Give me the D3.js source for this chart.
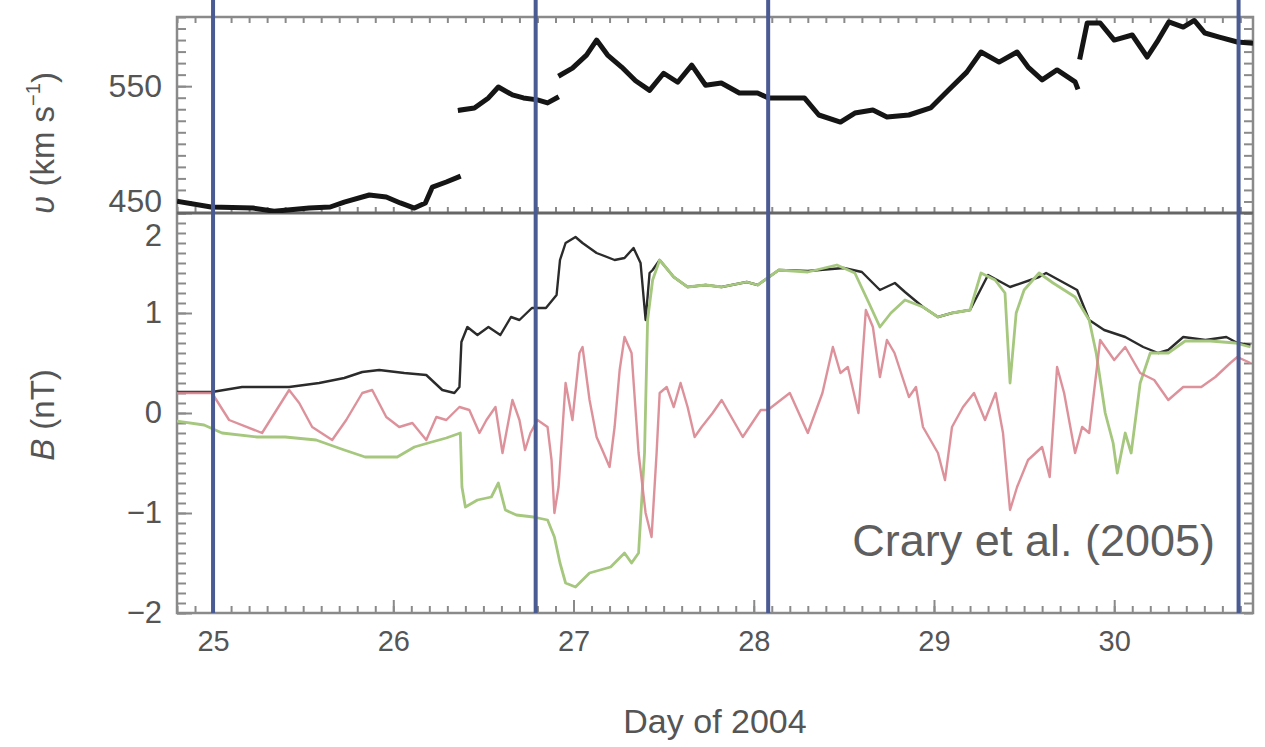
<!DOCTYPE html>
<html><head><meta charset="utf-8">
<script src="https://cdn.jsdelivr.net/npm/d3@7"></script>
<style>
html,body{margin:0;padding:0;background:#fff;}
svg{display:block;font-family:"Liberation Sans",Arial,Helvetica,sans-serif;}
</style></head><body>
<svg id="chart" width="1265" height="747"></svg>
<script>
// ---- data: solar wind speed (km/s), four segments with gaps ----
const speedSeg1 = [[24.814,449.8],[24.989,445.2],[25.222,444.3],[25.339,441.5],[25.533,444.3],[25.650,445.2],[25.728,449.5],[25.867,455.6],[25.961,453.9],[26.039,448.7],[26.117,444.3],[26.178,448.7],[26.217,462.5],[26.294,466.9],[26.361,471.2]];
const speedSeg2 = [[26.372,529.3],[26.450,531.1],[26.528,539.8],[26.583,549.3],[26.661,542.4],[26.722,539.8],[26.800,538.1],[26.856,535.5],[26.906,539.8]];
const speedSeg3 = [[26.928,559.7],[26.994,565.7],[27.072,577.0],[27.128,590.0],[27.189,577.0],[27.267,566.6],[27.344,554.7],[27.422,546.4],[27.500,561.2],[27.578,553.4],[27.656,568.2],[27.733,550.8],[27.820,552.7],[27.920,544.1],[28.021,544.1],[28.081,539.8],[28.281,539.8],[28.361,525.0],[28.481,518.9],[28.561,526.7],[28.661,529.3],[28.739,523.3],[28.861,525.0],[28.981,531.1],[29.081,546.7],[29.182,562.2],[29.261,579.6],[29.361,570.9],[29.461,579.6],[29.522,566.6],[29.600,555.4],[29.683,564.1],[29.783,553.7],[29.794,549.3]];
const speedSeg4 = [[29.811,575.3],[29.850,604.8],[29.922,604.8],[30.000,590.0],[30.100,594.4],[30.183,575.3],[30.244,590.0],[30.303,605.7],[30.383,601.3],[30.444,607.0],[30.503,596.1],[30.583,592.6],[30.683,588.3],[30.756,587.4]];

// ---- data: magnetic field (nT) ----
const fieldBlack = [[24.794,0.21],[24.994,0.21],[25.161,0.26],[25.422,0.26],[25.589,0.30],[25.728,0.35],[25.828,0.41],[25.922,0.43],[26.061,0.40],[26.183,0.38],[26.272,0.23],[26.339,0.20],[26.367,0.26],[26.378,0.71],[26.411,0.86],[26.467,0.78],[26.528,0.86],[26.594,0.78],[26.653,0.96],[26.700,0.93],[26.769,1.05],[26.847,1.05],[26.906,1.18],[26.925,1.53],[26.956,1.70],[27.011,1.76],[27.050,1.70],[27.128,1.60],[27.228,1.53],[27.283,1.55],[27.333,1.65],[27.372,1.50],[27.400,0.93],[27.422,1.40],[27.439,1.43],[27.478,1.53],[27.556,1.36],[27.633,1.26],[27.733,1.28],[27.822,1.26],[27.961,1.31],[28.022,1.28],[28.139,1.43],[28.300,1.42],[28.500,1.45],[28.600,1.41],[28.661,1.30],[28.700,1.23],[28.783,1.30],[28.839,1.21],[28.939,1.06],[29.022,0.96],[29.100,1.00],[29.200,1.03],[29.300,1.38],[29.422,1.26],[29.583,1.36],[29.622,1.40],[29.794,1.23],[29.861,0.93],[29.944,0.83],[30.061,0.76],[30.161,0.66],[30.244,0.60],[30.300,0.63],[30.383,0.76],[30.506,0.73],[30.622,0.76],[30.683,0.70],[30.756,0.68]];
const fieldGreen = [[24.794,-0.08],[24.950,-0.12],[25.050,-0.20],[25.244,-0.24],[25.400,-0.24],[25.572,-0.27],[25.728,-0.37],[25.844,-0.44],[26.022,-0.44],[26.117,-0.34],[26.194,-0.30],[26.294,-0.25],[26.372,-0.20],[26.381,-0.74],[26.400,-0.94],[26.467,-0.87],[26.544,-0.84],[26.583,-0.70],[26.622,-0.97],[26.683,-1.02],[26.778,-1.04],[26.856,-1.07],[26.894,-1.24],[26.925,-1.50],[26.956,-1.70],[27.011,-1.74],[27.089,-1.60],[27.206,-1.54],[27.283,-1.40],[27.322,-1.50],[27.361,-1.40],[27.394,-0.40],[27.411,0.93],[27.439,1.33],[27.478,1.53],[27.556,1.36],[27.633,1.26],[27.733,1.28],[27.822,1.26],[27.961,1.31],[28.022,1.28],[28.139,1.43],[28.300,1.41],[28.461,1.48],[28.561,1.40],[28.639,1.10],[28.700,0.86],[28.761,1.00],[28.839,1.13],[28.939,1.06],[29.022,0.96],[29.100,1.00],[29.200,1.03],[29.261,1.40],[29.339,1.33],[29.394,1.20],[29.422,0.30],[29.456,1.00],[29.500,1.23],[29.583,1.40],[29.661,1.30],[29.783,1.16],[29.861,0.93],[29.900,0.60],[29.950,0.00],[29.994,-0.30],[30.017,-0.60],[30.061,-0.20],[30.094,-0.40],[30.144,0.30],[30.200,0.60],[30.300,0.60],[30.394,0.72],[30.533,0.72],[30.672,0.70],[30.756,0.66]];
const fieldRed = [[24.794,0.20],[24.994,0.20],[25.089,-0.07],[25.272,-0.20],[25.422,0.23],[25.478,0.10],[25.550,-0.14],[25.661,-0.27],[25.739,-0.07],[25.828,0.20],[25.883,0.23],[25.961,-0.04],[26.033,-0.14],[26.106,-0.10],[26.183,-0.27],[26.239,-0.04],[26.294,-0.07],[26.367,0.06],[26.422,0.03],[26.478,-0.20],[26.517,-0.07],[26.567,0.06],[26.606,-0.40],[26.661,0.13],[26.700,-0.07],[26.731,-0.37],[26.761,-0.20],[26.800,-0.07],[26.856,-0.14],[26.878,-0.47],[26.894,-1.00],[26.917,-0.74],[26.956,0.30],[26.994,-0.07],[27.033,0.60],[27.050,0.66],[27.089,0.13],[27.128,-0.24],[27.167,-0.40],[27.200,-0.54],[27.228,-0.14],[27.256,0.43],[27.283,0.76],[27.322,0.60],[27.361,-0.40],[27.400,-1.00],[27.433,-1.24],[27.461,-0.40],[27.478,0.20],[27.517,0.26],[27.556,0.06],[27.594,0.30],[27.633,0.06],[27.672,-0.24],[27.711,-0.14],[27.772,0.00],[27.822,0.13],[27.939,-0.24],[28.039,0.03],[28.078,0.03],[28.200,0.20],[28.300,-0.20],[28.381,0.20],[28.439,0.66],[28.481,0.40],[28.522,0.46],[28.581,0.00],[28.622,1.03],[28.661,0.86],[28.700,0.36],[28.739,0.73],[28.781,0.60],[28.861,0.16],[28.900,0.26],[28.939,-0.14],[29.022,-0.40],[29.061,-0.67],[29.100,-0.14],[29.161,0.06],[29.222,0.20],[29.283,-0.07],[29.342,0.20],[29.383,-0.20],[29.422,-0.97],[29.461,-0.74],[29.522,-0.47],[29.600,-0.34],[29.642,-0.64],[29.683,0.46],[29.722,0.20],[29.783,-0.40],[29.822,-0.14],[29.861,-0.20],[29.922,0.73],[30.000,0.53],[30.061,0.66],[30.144,0.40],[30.222,0.33],[30.300,0.13],[30.383,0.26],[30.483,0.26],[30.561,0.36],[30.644,0.50],[30.683,0.56],[30.756,0.50]];

// ---- ticks, markers, labels ----
const dayTicks = [25, 26, 27, 28, 29, 30];
const speedTicks = [450, 550];
const fieldTicks = [-2, -1, 0, 1, 2];
const eventDays = [25.0, 26.79, 28.08, 30.69];
const xTitle = "Day of 2004";
const creditText = "Crary et al. (2005)";

// ---- layout ----
const L = 177, R = 1253, T = 17, M = 213, B = 613;
const svg = d3.select("#chart");
const x = d3.scaleLinear().domain([24.8, 30.77]).range([L, R]);
const yV = d3.scaleLinear().domain([440, 610]).range([M, T]);
const yB = d3.scaleLinear().domain([-2, 2]).range([B, M]);

const defs = svg.append("defs");
defs.append("clipPath").attr("id", "clipTop").append("rect").attr("x", L).attr("y", T).attr("width", R - L).attr("height", M - T);
defs.append("clipPath").attr("id", "clipBot").append("rect").attr("x", L).attr("y", M).attr("width", R - L).attr("height", B - M);

const axisColor = "#8a8a8a";
const textColor = "#555";

function styleAxis(g) {
  g.select(".domain").remove();
  g.selectAll(".tick line").attr("stroke", axisColor).attr("stroke-width", 2);
  g.selectAll(".tick text").attr("fill", textColor).attr("font-family", "Liberation Sans, Arial, sans-serif");
}

const minorV = d3.range(440, 611, 10);
const minorB = d3.range(-20, 21).map(d => d / 10);
const minorX = d3.range(248, 308).map(d => d / 10);

svg.append("g").attr("transform", `translate(${L},0)`)
  .call(d3.axisLeft(yV).tickValues(minorV).tickSize(-9).tickFormat(""))
  .call(styleAxis);
svg.append("g").attr("transform", `translate(${L},0)`)
  .call(d3.axisLeft(yB).tickValues(minorB).tickSize(-9).tickFormat(""))
  .call(styleAxis);
svg.append("g").attr("transform", `translate(${R},0)`)
  .call(d3.axisRight(yV).tickValues(minorV).tickSize(-9).tickFormat(""))
  .call(styleAxis);
svg.append("g").attr("transform", `translate(${R},0)`)
  .call(d3.axisRight(yB).tickValues(minorB).tickSize(-9).tickFormat(""))
  .call(styleAxis);

const gV = svg.append("g").attr("transform", `translate(${L},0)`)
  .call(d3.axisLeft(yV).tickValues(speedTicks).tickSize(-15).tickPadding(15).tickFormat(d3.format("d")))
  .call(styleAxis);
gV.selectAll(".tick text").attr("font-size", 32);

const gB = svg.append("g").attr("transform", `translate(${L},0)`)
  .call(d3.axisLeft(yB).tickValues(fieldTicks).tickSize(-15).tickPadding(15)
    .tickFormat(d => d < 0 ? "\u2212" + Math.abs(d) : String(d)))
  .call(styleAxis);
gB.selectAll(".tick text").attr("font-size", 31)
  .attr("dy", d => d === 2 ? "1.05em" : "0.32em");

svg.append("g").attr("transform", `translate(0,${B})`)
  .call(d3.axisBottom(x).tickValues(minorX).tickSize(-7).tickFormat(""))
  .call(styleAxis);
const gX = svg.append("g").attr("transform", `translate(0,${B})`)
  .call(d3.axisBottom(x).tickValues(dayTicks).tickSize(-13).tickPadding(17).tickFormat(d3.format("d")))
  .call(styleAxis);
gX.selectAll(".tick text").attr("font-size", 29);
svg.append("g").attr("transform", `translate(0,${T})`)
  .call(d3.axisTop(x).tickValues(minorX).tickSize(-6).tickFormat(""))
  .call(styleAxis);
svg.append("g").attr("transform", `translate(0,${M})`)
  .call(d3.axisTop(x).tickValues(minorX).tickSize(6).tickFormat(""))
  .call(styleAxis);

svg.append("rect").attr("x", L).attr("y", T).attr("width", R - L).attr("height", B - T)
  .attr("fill", "none").attr("stroke", axisColor).attr("stroke-width", 2.5);
svg.append("line").attr("x1", L).attr("x2", R).attr("y1", M).attr("y2", M)
  .attr("stroke", "#666").attr("stroke-width", 3);

const lineV = d3.line().x(d => x(d[0])).y(d => yV(d[1]));
const topG = svg.append("g").attr("clip-path", "url(#clipTop)");
[speedSeg1, speedSeg2, speedSeg3, speedSeg4].forEach(seg => {
  topG.append("path").datum(seg).attr("d", lineV)
    .attr("fill", "none").attr("stroke", "#151515").attr("stroke-width", 5)
    .attr("stroke-linejoin", "round").attr("stroke-linecap", "square");
});

const lineB = d3.line().x(d => x(d[0])).y(d => yB(d[1]));
const botG = svg.append("g").attr("clip-path", "url(#clipBot)");
const fieldSeries = [
  {data: fieldBlack, color: "#2b2b2b", w: 2.4, op: 1},
  {data: fieldGreen, color: "#a6c77e", w: 2.8, op: 1},
  {data: fieldRed, color: "#d98590", w: 2.4, op: 0.9}
];
fieldSeries.forEach(s => {
  botG.append("path").datum(s.data).attr("d", lineB)
    .attr("fill", "none").attr("stroke", s.color).attr("stroke-width", s.w)
    .attr("stroke-opacity", s.op).attr("stroke-linejoin", "round");
});

svg.append("g").selectAll("line").data(eventDays).join("line")
  .attr("x1", d => x(d)).attr("x2", d => x(d))
  .attr("y1", 0).attr("y2", B)
  .attr("stroke", "#4a5a92").attr("stroke-width", 4);

const vTitle = svg.append("text").attr("transform", "translate(54,143) rotate(-90)")
  .attr("text-anchor", "middle").attr("fill", textColor).attr("font-size", 33);
vTitle.append("tspan").attr("font-style", "italic").text("\u03c5");
vTitle.append("tspan").text(" (km s");
vTitle.append("tspan").attr("font-size", 20).attr("dy", "-0.7em").text("\u22121");
vTitle.append("tspan").attr("dy", "0.45em").text(")");

const bTitle = svg.append("text").attr("transform", "translate(54,415) rotate(-90)")
  .attr("text-anchor", "middle").attr("fill", textColor).attr("font-size", 33);
bTitle.append("tspan").attr("font-style", "italic").text("B");
bTitle.append("tspan").text(" (nT)");

svg.append("text").attr("x", (L + R) / 2).attr("y", 733)
  .attr("text-anchor", "middle").attr("fill", textColor).attr("font-size", 34).text(xTitle);

svg.append("text").attr("x", 1215).attr("y", 556)
  .attr("text-anchor", "end").attr("fill", "#5e5e5e").attr("font-size", 45).text(creditText);
</script>
</body></html>
